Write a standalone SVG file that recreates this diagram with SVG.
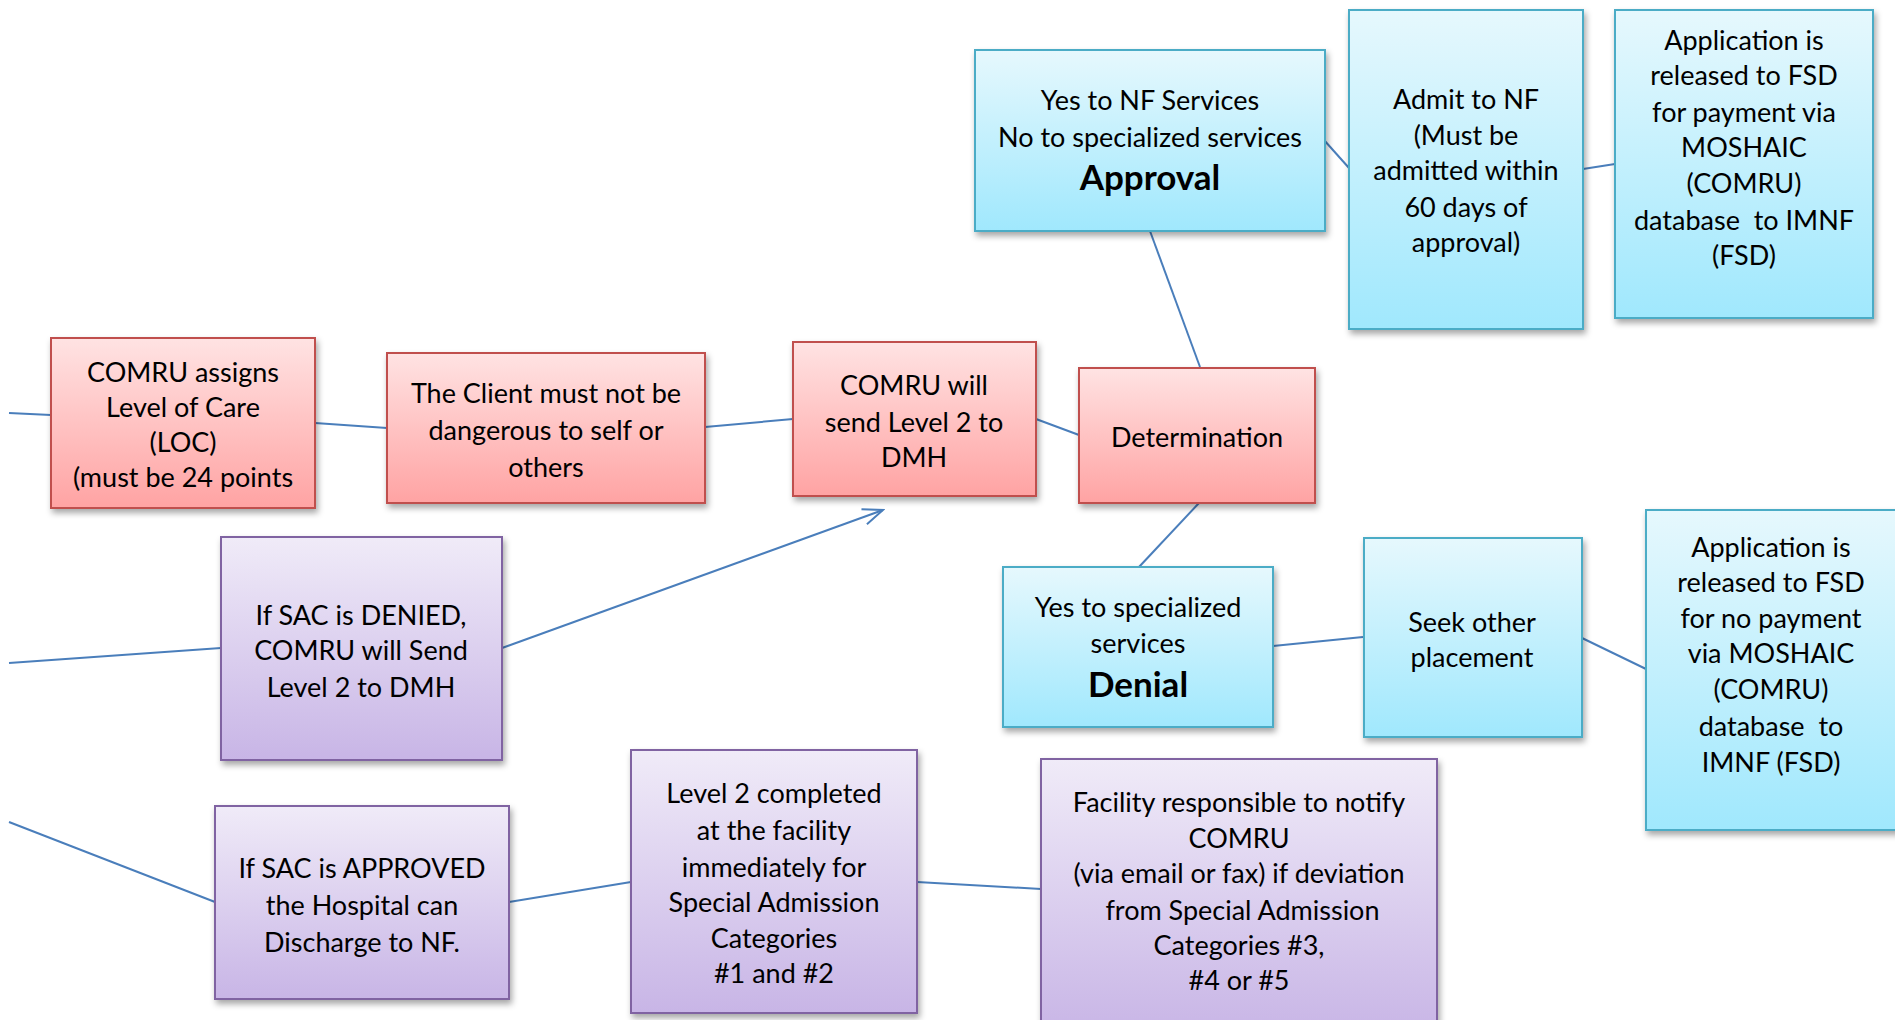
<svg xmlns="http://www.w3.org/2000/svg" width="1895" height="1020" viewBox="0 0 1895 1020">
<defs>
<linearGradient id="gRed" x1="0" y1="0" x2="0" y2="1"><stop offset="0" stop-color="#FFE3E3"/><stop offset="1" stop-color="#FFA3A3"/></linearGradient>
<linearGradient id="gBlue" x1="0" y1="0" x2="0" y2="1"><stop offset="0" stop-color="#E6F8FD"/><stop offset="1" stop-color="#A0E8FD"/></linearGradient>
<linearGradient id="gPur" x1="0" y1="0" x2="0" y2="1"><stop offset="0" stop-color="#F0EBF8"/><stop offset="1" stop-color="#C8B5E6"/></linearGradient>
<filter id="sh" x="-10%" y="-10%" width="125%" height="125%"><feDropShadow dx="2" dy="4" stdDeviation="3" flood-color="#000" flood-opacity="0.35"/></filter>
<marker id="openArrow" viewBox="0 0 24 20" refX="22" refY="10" markerWidth="24" markerHeight="20" markerUnits="userSpaceOnUse" orient="auto"><path d="M2,2 L22,10 L2,18" fill="none" stroke="#4A7EBB" stroke-width="2"/></marker>
</defs>
<style>
.red{fill:url(#gRed);stroke:#C0504D;stroke-width:2;filter:url(#sh)}
.blue{fill:url(#gBlue);stroke:#4BACC6;stroke-width:2;filter:url(#sh)}
.pur{fill:url(#gPur);stroke:#8064A2;stroke-width:2;filter:url(#sh)}
text{font-family:Lato,"Liberation Sans",sans-serif;font-size:27px;fill:#000;text-anchor:middle;white-space:pre}
.b{font-weight:bold;font-size:35px}
.c{fill:none;stroke:#4A7EBB;stroke-width:2}
</style>
<rect width="1895" height="1020" fill="#fff"/>
<g id="connectors">
<line class="c" x1="9" y1="413" x2="51" y2="415"/>
<line class="c" x1="315" y1="423" x2="387" y2="428"/>
<line class="c" x1="705" y1="427" x2="793" y2="419"/>
<line class="c" x1="1036" y1="419" x2="1079" y2="435"/>
<line class="c" x1="1150" y1="231" x2="1200" y2="367"/>
<line class="c" x1="1324" y1="140" x2="1349" y2="168"/>
<line class="c" x1="1583" y1="169" x2="1615" y2="164"/>
<line class="c" x1="1199" y1="503" x2="1139" y2="567"/>
<line class="c" x1="1273" y1="646" x2="1363" y2="637"/>
<line class="c" x1="1582" y1="638" x2="1646" y2="669"/>
<line class="c" x1="9" y1="663" x2="221" y2="648"/>
<line class="c" x1="502" y1="648" x2="883" y2="510" marker-end="url(#openArrow)"/>
<line class="c" x1="9" y1="822" x2="215" y2="902"/>
<line class="c" x1="509" y1="902" x2="631" y2="882"/>
<line class="c" x1="917" y1="882" x2="1041" y2="889"/>
</g>
<g id="n1"><rect class="red" x="51" y="338" width="264" height="170"/>
<text x="183" y="382">COMRU assigns</text><text x="183" y="417">Level of Care</text><text x="183" y="452">(LOC)</text><text x="183" y="487">(must be 24 points</text></g>
<g id="n2"><rect class="red" x="387" y="353" width="318" height="150"/>
<text x="546" y="403">The Client must not be</text><text x="546" y="440">dangerous to self or</text><text x="546" y="477">others</text></g>
<g id="n3"><rect class="red" x="793" y="342" width="243" height="154"/>
<text x="914" y="395">COMRU will</text><text x="914" y="432">send Level 2 to</text><text x="914" y="467">DMH</text></g>
<g id="n4"><rect class="red" x="1079" y="368" width="236" height="135"/>
<text x="1197" y="447">Determination</text></g>
<g id="n5"><rect class="blue" x="975" y="50" width="350" height="181"/>
<text x="1150" y="110">Yes to NF Services</text><text x="1150" y="147">No to specialized services</text><text class="b" x="1150" y="190">Approval</text></g>
<g id="n6"><rect class="blue" x="1349" y="10" width="234" height="319"/>
<text x="1466" y="109">Admit to NF</text><text x="1466" y="145">(Must be</text><text x="1466" y="180">admitted within</text><text x="1466" y="217">60 days of</text><text x="1466" y="252">approval)</text></g>
<g id="n7"><rect class="blue" x="1615" y="10" width="258" height="308"/>
<text x="1744" y="50">Application is</text><text x="1744" y="85">released to FSD</text><text x="1744" y="122">for payment via</text><text x="1744" y="157">MOSHAIC</text><text x="1744" y="193">(COMRU)</text><text x="1744" y="230">database  to IMNF</text><text x="1744" y="265">(FSD)</text></g>
<g id="n8"><rect class="blue" x="1003" y="567" width="270" height="160"/>
<text x="1138" y="617">Yes to specialized</text><text x="1138" y="653">services</text><text class="b" x="1138" y="697">Denial</text></g>
<g id="n9"><rect class="blue" x="1364" y="538" width="218" height="199"/>
<text x="1472" y="632">Seek other</text><text x="1472" y="667">placement</text></g>
<g id="n10"><rect class="blue" x="1646" y="510" width="260" height="320"/>
<text x="1771" y="557">Application is</text><text x="1771" y="592">released to FSD</text><text x="1771" y="628">for no payment</text><text x="1771" y="663">via MOSHAIC</text><text x="1771" y="699">(COMRU)</text><text x="1771" y="736">database  to</text><text x="1771" y="772">IMNF (FSD)</text></g>
<g id="n11"><rect class="pur" x="221" y="537" width="281" height="223"/>
<text x="361" y="625">If SAC is DENIED,</text><text x="361" y="660">COMRU will Send</text><text x="361" y="697">Level 2 to DMH</text></g>
<g id="n12"><rect class="pur" x="215" y="806" width="294" height="193"/>
<text x="362" y="878">If SAC is APPROVED</text><text x="362" y="915">the Hospital can</text><text x="362" y="952">Discharge to NF.</text></g>
<g id="n13"><rect class="pur" x="631" y="750" width="286" height="263"/>
<text x="774" y="803">Level 2 completed</text><text x="774" y="840">at the facility</text><text x="774" y="877">immediately for</text><text x="774" y="912">Special Admission</text><text x="774" y="948">Categories</text><text x="774" y="983">#1 and #2</text></g>
<g id="n14"><rect class="pur" x="1041" y="759" width="396" height="275"/>
<text x="1239" y="812">Facility responsible to notify</text><text x="1239" y="848">COMRU</text><text x="1239" y="883">(via email or fax) if deviation</text><text x="1239" y="920"> from Special Admission</text><text x="1239" y="955">Categories #3,</text><text x="1239" y="990">#4 or #5</text></g>
</svg>
